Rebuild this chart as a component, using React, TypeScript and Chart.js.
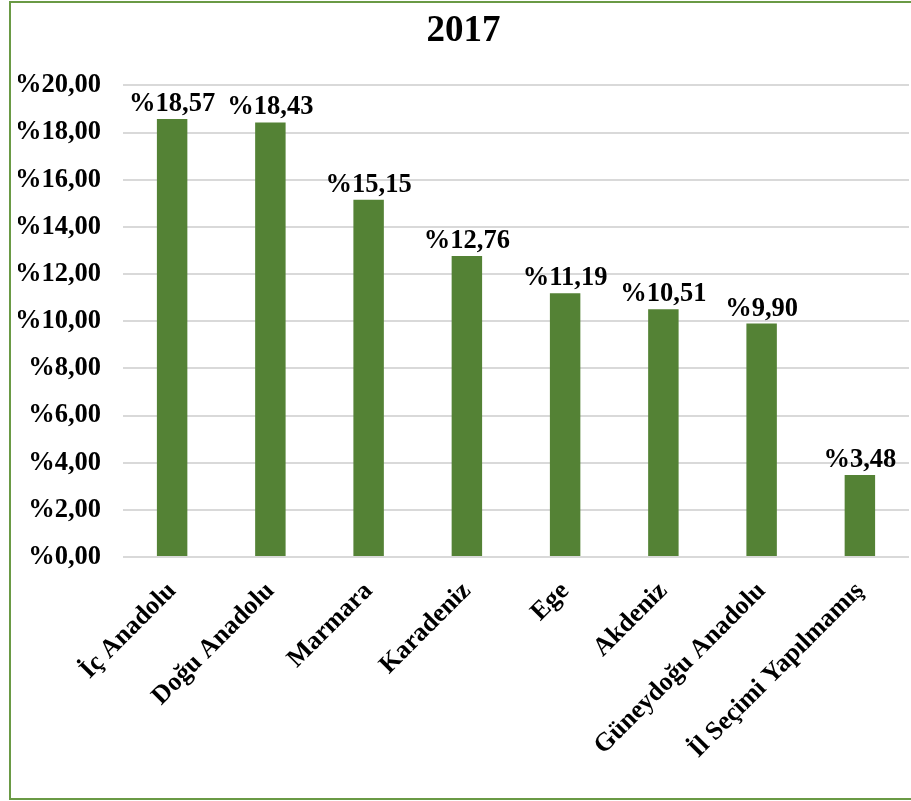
import React, { useEffect, useRef } from "react";
import { Chart, registerables } from "chart.js";

Chart.register(...registerables);

const categories = [
  "İç Anadolu",
  "Doğu Anadolu",
  "Marmara",
  "Karadeniz",
  "Ege",
  "Akdeniz",
  "Güneydoğu Anadolu",
  "İl Seçimi Yapılmamış",
];
const values = [18.57, 18.43, 15.15, 12.76, 11.19, 10.51, 9.9, 3.48];
const chartTitle = "2017";

const FONT = "'Liberation Serif', 'Times New Roman', serif";
const fmt = (v: number) => "%" + v.toFixed(2).replace(".", ",");

const frame = {
  id: "frame",
  beforeDraw(chart: any) {
    const ctx = chart.ctx;
    ctx.save();
    ctx.fillStyle = "#ffffff";
    ctx.fillRect(0, 0, chart.width, chart.height);
    ctx.strokeStyle = "#6a9a45";
    ctx.lineWidth = 2;
    ctx.strokeRect(10, 2, 920, 797);
    ctx.restore();
  },
};

const barLabels = {
  id: "barLabels",
  afterDatasetsDraw(chart: any) {
    const ctx = chart.ctx;
    const meta = chart.getDatasetMeta(0);
    ctx.save();
    ctx.font = `bold 26.5px ${FONT}`;
    ctx.fillStyle = "#000000";
    ctx.textAlign = "center";
    ctx.textBaseline = "alphabetic";
    meta.data.forEach((el: any, i: number) => {
      ctx.fillText(fmt(values[i]), el.x, el.y - 8);
    });
    ctx.restore();
  },
};

export default function App() {
  const ref = useRef<HTMLCanvasElement>(null);
  useEffect(() => {
    if (!ref.current) return;
    const chart = new Chart(ref.current, {
      type: "bar",
      data: {
        labels: categories,
        datasets: [
          {
            data: values,
            backgroundColor: "#548235",
            barPercentage: 0.62,
            categoryPercentage: 0.5,
          },
        ],
      },
      options: {
        animation: false,
        responsive: false,
        devicePixelRatio: 1,
        layout: { padding: { left: 18, right: 2, top: 0, bottom: 0 } },
        plugins: {
          legend: { display: false },
          tooltip: { enabled: false },
          title: {
            display: true,
            text: chartTitle,
            color: "#000000",
            font: { family: FONT, size: 37, weight: "bold" },
            padding: { top: 9, bottom: 32 },
          },
        },
        scales: {
          x: {
            grid: { display: false, drawTicks: false },
            border: { display: false },
            ticks: {
              color: "#000000",
              font: { family: FONT, size: 26, weight: "bold" },
              minRotation: 45,
              maxRotation: 45,
              padding: 19,
              autoSkip: false,
            },
            afterFit(scale: any) {
              scale.height = 244;
            },
          },
          y: {
            min: 0,
            max: 20,
            grid: { color: "#d9d9d9", lineWidth: 2, drawTicks: false },
            border: { display: false },
            ticks: {
              stepSize: 2,
              color: "#000000",
              font: { family: FONT, size: 26.5, weight: "bold" },
              padding: 22,
              callback: (v: any) => fmt(Number(v)),
            },
            afterFit(scale: any) {
              scale.width = 105;
            },
          },
        },
      },
      plugins: [frame, barLabels],
    });
    return () => chart.destroy();
  }, []);
  return (
    <div style={{ position: "absolute", left: 0, top: 0, width: 911, height: 801 }}>
      <canvas ref={ref} width={911} height={801} style={{ display: "block" }} />
    </div>
  );
}
